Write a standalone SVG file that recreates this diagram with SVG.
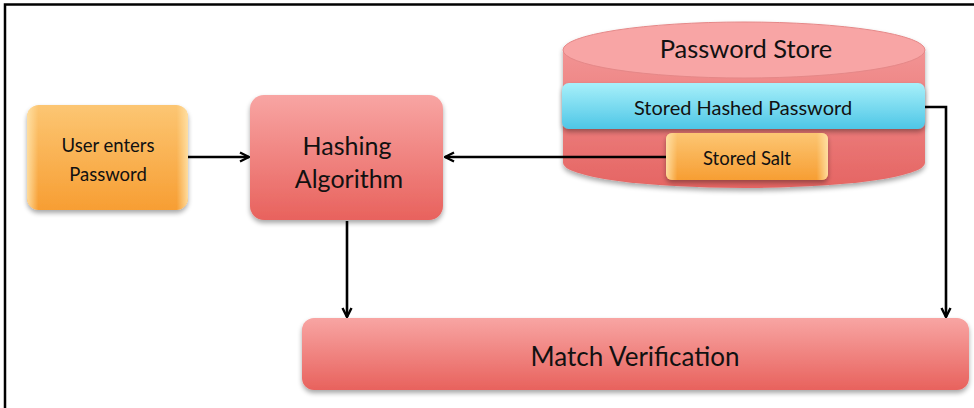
<svg xmlns="http://www.w3.org/2000/svg" width="974" height="408" viewBox="0 0 974 408">
<style>
  .t { font-family: Lato, "Open Sans", "Liberation Sans", sans-serif; fill: #111; text-anchor: middle; dominant-baseline: central; }
  .conn { stroke: #000; stroke-width: 2.6; fill: none; }
</style>
<defs>
  <linearGradient id="gOrange" x1="0" y1="0" x2="0" y2="1">
    <stop offset="0" stop-color="#FCC673"/>
    <stop offset="1" stop-color="#F79E33"/>
  </linearGradient>
  <linearGradient id="gOrangeEdge" x1="0" y1="0" x2="1" y2="0">
    <stop offset="0" stop-color="#FFE2A8" stop-opacity="0.9"/>
    <stop offset="0.07" stop-color="#FFE2A8" stop-opacity="0"/>
    <stop offset="0.93" stop-color="#FFE2A8" stop-opacity="0"/>
    <stop offset="1" stop-color="#FFE2A8" stop-opacity="0.9"/>
  </linearGradient>
  <linearGradient id="gRed" x1="0" y1="0" x2="0" y2="1">
    <stop offset="0" stop-color="#F8A5A3"/>
    <stop offset="1" stop-color="#E8625D"/>
  </linearGradient>
  <linearGradient id="gCyan" x1="0" y1="0" x2="0" y2="1">
    <stop offset="0" stop-color="#A8F0FA"/>
    <stop offset="1" stop-color="#4EC6E6"/>
  </linearGradient>
  <linearGradient id="gCylBody" x1="0" y1="0" x2="0" y2="1">
    <stop offset="0" stop-color="#F29494"/>
    <stop offset="1" stop-color="#E56563"/>
  </linearGradient>
  <filter id="sh" x="-10%" y="-10%" width="120%" height="130%">
    <feGaussianBlur in="SourceAlpha" stdDeviation="2.5"/>
    <feOffset dx="0" dy="3" result="b"/>
    <feComponentTransfer><feFuncA type="linear" slope="0.35"/></feComponentTransfer>
    <feMerge><feMergeNode/><feMergeNode in="SourceGraphic"/></feMerge>
  </filter>
  <marker id="arr" viewBox="0 0 12 12" refX="11" refY="6" markerWidth="12" markerHeight="12" markerUnits="userSpaceOnUse" orient="auto">
    <path d="M2,1.5 L11,6 L2,10.5" fill="none" stroke="#000" stroke-width="2.4"/>
  </marker>
</defs>

<rect width="974" height="408" fill="#fff"/>
<path d="M5,408 V4.5 H974" fill="none" stroke="#000" stroke-width="2.5"/>

<g id="password-store">
  <g filter="url(#sh)">
    <path d="M563,50 V163 A181,25 0 0 0 925,163 V50 Z" fill="url(#gCylBody)"/>
    <ellipse cx="744" cy="50" rx="181" ry="28" fill="#F8A5A5" stroke="#E58888" stroke-width="1"/>
  </g>
  <text class="t" x="746" y="48" font-size="25.5">Password Store</text>
</g>

<g id="stored-hashed-password">
  <rect x="562" y="83" width="363" height="46" rx="7" fill="url(#gCyan)" filter="url(#sh)"/>
  <text class="t" x="743" y="107" font-size="20">Stored Hashed Password</text>
</g>

<g id="stored-salt">
  <rect x="666" y="133" width="162" height="47" rx="6" fill="url(#gOrange)" filter="url(#sh)"/>
  <rect x="666" y="133" width="162" height="47" rx="6" fill="url(#gOrangeEdge)"/>
  <text class="t" x="747" y="158" font-size="18.5">Stored Salt</text>
</g>

<g id="user-enters-password">
  <rect x="27" y="105" width="161" height="105" rx="12" fill="url(#gOrange)" filter="url(#sh)"/>
  <rect x="27" y="105" width="161" height="105" rx="12" fill="url(#gOrangeEdge)"/>
  <text class="t" x="108" y="145" font-size="18.5">User enters</text>
  <text class="t" x="108" y="174" font-size="18.5">Password</text>
</g>

<g id="hashing-algorithm">
  <rect x="250" y="95" width="193" height="125" rx="14" fill="url(#gRed)" filter="url(#sh)"/>
  <text class="t" x="347" y="145" font-size="25">Hashing</text>
  <text class="t" x="349" y="178" font-size="25">Algorithm</text>
</g>

<g id="match-verification">
  <rect x="302" y="318" width="667" height="72" rx="12" fill="url(#gRed)" filter="url(#sh)"/>
  <text class="t" x="635" y="356" font-size="26">Match Verification</text>
</g>

<g id="connectors">
  <line class="conn" x1="188" y1="157" x2="249" y2="157" marker-end="url(#arr)"/>
  <line class="conn" x1="666" y1="157" x2="445" y2="157" marker-end="url(#arr)"/>
  <line class="conn" x1="347" y1="221" x2="347" y2="317" marker-end="url(#arr)"/>
  <polyline class="conn" points="925,107 946,107 946,317" marker-end="url(#arr)"/>
</g>
</svg>
